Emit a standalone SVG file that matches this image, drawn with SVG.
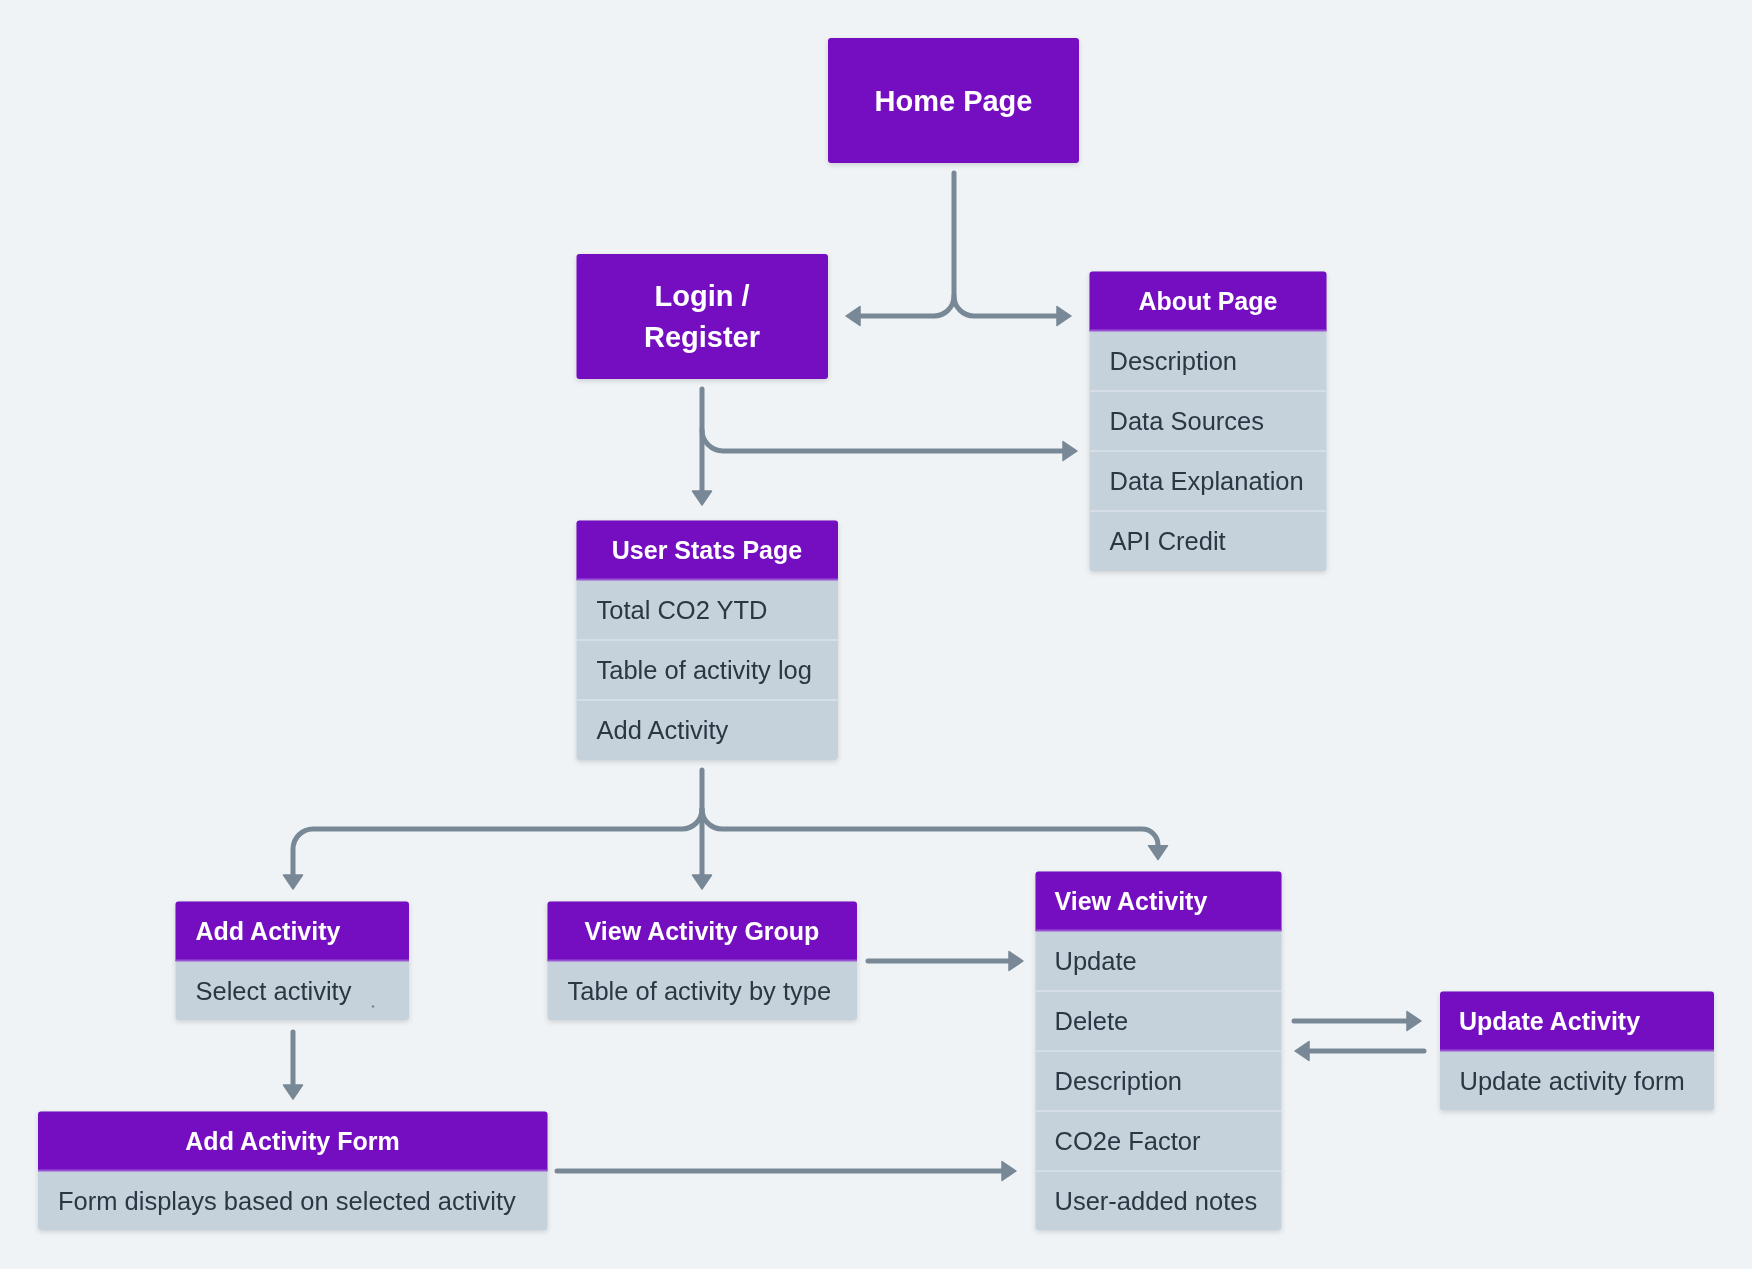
<svg xmlns="http://www.w3.org/2000/svg" width="1752" height="1269" viewBox="0 0 1752 1269">
<defs>
<style>
.bg{fill:#eff3f6}
.hd{fill:#7411c1}
.hl{stroke:#9a55d4;stroke-width:2}
.row{fill:#c5d1db}
.sep{stroke:#d5dee6;stroke-width:2}
.t{font-family:"Liberation Sans",Arial,sans-serif;font-size:25.5px;fill:#2b3743;dominant-baseline:central}
.h{font-family:"Liberation Sans",Arial,sans-serif;font-size:25px;font-weight:bold;fill:#ffffff;dominant-baseline:central}
.big{font-family:"Liberation Sans",Arial,sans-serif;font-size:29px;font-weight:bold;fill:#ffffff;dominant-baseline:central;text-anchor:middle}
.c{text-anchor:middle}
.ln{fill:none;stroke:#788896;stroke-width:5;stroke-linecap:round;stroke-linejoin:round}
</style>
<filter id="sh" x="-10%" y="-10%" width="120%" height="130%">
<feDropShadow dx="0" dy="2" stdDeviation="2.5" flood-color="#000" flood-opacity="0.14"/>
</filter>
<marker id="ah" viewBox="0 0 16 22" markerWidth="16" markerHeight="22" refX="1" refY="11" markerUnits="userSpaceOnUse" orient="auto">
<path d="M1,1.5 L15,11 L1,20.5 Z" fill="#788896" stroke="#788896" stroke-width="1.5" stroke-linejoin="round"/>
</marker>
</defs>
<rect class="bg" x="0" y="0" width="1752" height="1269"/>

<g id="connectors">
<path class="ln" d="M954,173 V296 A20,20 0 0 1 934,316 H860" marker-end="url(#ah)"/>
<path class="ln" d="M954,296 A20,20 0 0 0 974,316 H1057" marker-end="url(#ah)"/>
<path class="ln" d="M702,389 V491" marker-end="url(#ah)"/>
<path class="ln" d="M702,430 A21,21 0 0 0 723,451 H1063" marker-end="url(#ah)"/>
<path class="ln" d="M702,770 V875" marker-end="url(#ah)"/>
<path class="ln" d="M702,809 A20,20 0 0 1 682,829 H313 A20,20 0 0 0 293,849 V875" marker-end="url(#ah)"/>
<path class="ln" d="M702,809 A20,20 0 0 0 722,829 H1142 A16,16 0 0 1 1158,845 V845.5" marker-end="url(#ah)"/>
<path class="ln" d="M868,961 H1009" marker-end="url(#ah)"/>
<path class="ln" d="M557,1171 H1002" marker-end="url(#ah)"/>
<path class="ln" d="M293,1032 V1085" marker-end="url(#ah)"/>
<path class="ln" d="M1294,1021 H1407" marker-end="url(#ah)"/>
<path class="ln" d="M1424,1051 H1309" marker-end="url(#ah)"/>
</g>

<g id="home-page" filter="url(#sh)">
<rect class="hd" x="828" y="38" width="251" height="125" rx="3"/>
<text class="big" x="953.5" y="101">Home Page</text>
</g>

<g id="login-register" filter="url(#sh)">
<rect class="hd" x="576.5" y="254" width="251.5" height="125" rx="3"/>
<text class="big" x="702" y="296">Login /</text>
<text class="big" x="702" y="337">Register</text>
</g>

<g id="about-page" filter="url(#sh)">
<rect class="row" x="1089.5" y="271.5" width="237" height="299.5" rx="3"/>
<path class="hd" d="M1089.5,331 V274.5 A3,3 0 0 1 1092.5,271.5 H1323.5 A3,3 0 0 1 1326.5,274.5 V331 Z"/>
<line class="hl" x1="1089.5" y1="330.5" x2="1326.5" y2="330.5"/>
<line class="sep" x1="1089.5" y1="391" x2="1326.5" y2="391"/>
<line class="sep" x1="1089.5" y1="451" x2="1326.5" y2="451"/>
<line class="sep" x1="1089.5" y1="511" x2="1326.5" y2="511"/>
<text class="h c" x="1208" y="301">About Page</text>
<text class="t" x="1109.5" y="361">Description</text>
<text class="t" x="1109.5" y="421">Data Sources</text>
<text class="t" x="1109.5" y="481">Data Explanation</text>
<text class="t" x="1109.5" y="541">API Credit</text>
</g>

<g id="user-stats-page" filter="url(#sh)">
<rect class="row" x="576.5" y="520.5" width="261.5" height="239.5" rx="3"/>
<path class="hd" d="M576.5,580 V523.5 A3,3 0 0 1 579.5,520.5 H835 A3,3 0 0 1 838,523.5 V580 Z"/>
<line class="hl" x1="576.5" y1="579.5" x2="838" y2="579.5"/>
<line class="sep" x1="576.5" y1="640" x2="838" y2="640"/>
<line class="sep" x1="576.5" y1="700" x2="838" y2="700"/>
<text class="h c" x="707" y="550">User Stats Page</text>
<text class="t" x="596.5" y="610">Total CO2 YTD</text>
<text class="t" x="596.5" y="670">Table of activity log</text>
<text class="t" x="596.5" y="730">Add Activity</text>
</g>

<g id="add-activity" filter="url(#sh)">
<rect class="row" x="175.5" y="901.5" width="233.5" height="118.5" rx="3"/>
<path class="hd" d="M175.5,961 V904.5 A3,3 0 0 1 178.5,901.5 H406 A3,3 0 0 1 409,904.5 V961 Z"/>
<line class="hl" x1="175.5" y1="960.5" x2="409" y2="960.5"/>
<text class="h" x="195.5" y="931">Add Activity</text>
<text class="t" x="195.5" y="990.5">Select activity</text>
<circle cx="373" cy="1006.5" r="1.3" fill="#7d8a96"/>
</g>

<g id="view-activity-group" filter="url(#sh)">
<rect class="row" x="547.5" y="901.5" width="309.5" height="118.5" rx="3"/>
<path class="hd" d="M547.5,961 V904.5 A3,3 0 0 1 550.5,901.5 H854 A3,3 0 0 1 857,904.5 V961 Z"/>
<line class="hl" x1="547.5" y1="960.5" x2="857" y2="960.5"/>
<text class="h c" x="702" y="931">View Activity Group</text>
<text class="t" x="567.5" y="990.5">Table of activity by type</text>
</g>

<g id="add-activity-form" filter="url(#sh)">
<rect class="row" x="38" y="1111.5" width="509.5" height="118.5" rx="3"/>
<path class="hd" d="M38,1171 V1114.5 A3,3 0 0 1 41,1111.5 H544.5 A3,3 0 0 1 547.5,1114.5 V1171 Z"/>
<line class="hl" x1="38" y1="1170.5" x2="547.5" y2="1170.5"/>
<text class="h c" x="292.5" y="1141">Add Activity Form</text>
<text class="t" x="58" y="1200.5">Form displays based on selected activity</text>
</g>

<g id="view-activity" filter="url(#sh)">
<rect class="row" x="1035.5" y="871.5" width="246" height="358.5" rx="3"/>
<path class="hd" d="M1035.5,931 V874.5 A3,3 0 0 1 1038.5,871.5 H1278.5 A3,3 0 0 1 1281.5,874.5 V931 Z"/>
<line class="hl" x1="1035.5" y1="930.5" x2="1281.5" y2="930.5"/>
<line class="sep" x1="1035.5" y1="991" x2="1281.5" y2="991"/>
<line class="sep" x1="1035.5" y1="1051" x2="1281.5" y2="1051"/>
<line class="sep" x1="1035.5" y1="1111" x2="1281.5" y2="1111"/>
<line class="sep" x1="1035.5" y1="1171" x2="1281.5" y2="1171"/>
<text class="h" x="1054.5" y="901">View Activity</text>
<text class="t" x="1054.5" y="961">Update</text>
<text class="t" x="1054.5" y="1021">Delete</text>
<text class="t" x="1054.5" y="1081">Description</text>
<text class="t" x="1054.5" y="1141">CO2e Factor</text>
<text class="t" x="1054.5" y="1201">User-added notes</text>
</g>

<g id="update-activity" filter="url(#sh)">
<rect class="row" x="1440" y="991.5" width="274" height="119" rx="3"/>
<path class="hd" d="M1440,1051 V994.5 A3,3 0 0 1 1443,991.5 H1711 A3,3 0 0 1 1714,994.5 V1051 Z"/>
<line class="hl" x1="1440" y1="1050.5" x2="1714" y2="1050.5"/>
<text class="h" x="1459" y="1021">Update Activity</text>
<text class="t" x="1459.5" y="1081">Update activity form</text>
</g>
</svg>
